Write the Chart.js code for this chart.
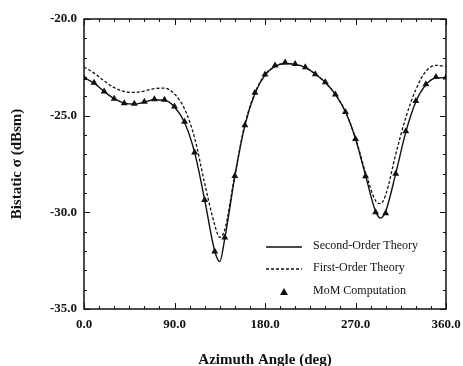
<!DOCTYPE html>
<html>
<head>
<meta charset="utf-8">
<script src="https://cdn.jsdelivr.net/npm/chart.js@4.4.1/dist/chart.umd.min.js"></script>
<style>
html,body{margin:0;padding:0;background:#fff;}
canvas{display:block;}
</style>
</head>
<body>
<canvas id="c" width="463" height="366"></canvas>
<script>
// ---- data ----
const theoryAngles = [0,10,20,30,40,50,60,70,80,90,100,110,120,130,135,140,150,160,170,180,190,200,210,220,230,240,250,260,270,280,290,295,300,310,320,330,340,350,360];
const secondOrder = [-23.03,-23.32,-23.75,-24.12,-24.35,-24.40,-24.30,-24.18,-24.20,-24.55,-25.35,-26.90,-29.35,-32.00,-32.55,-31.35,-28.15,-25.50,-23.85,-22.90,-22.45,-22.30,-22.35,-22.50,-22.85,-23.28,-23.90,-24.80,-26.20,-28.10,-29.95,-30.30,-29.95,-28.00,-25.85,-24.28,-23.40,-23.05,-23.03];
const firstOrder = [-22.48,-22.80,-23.20,-23.55,-23.75,-23.80,-23.73,-23.60,-23.58,-23.88,-24.65,-26.15,-28.50,-30.65,-31.30,-30.90,-28.05,-25.45,-23.82,-22.88,-22.45,-22.30,-22.35,-22.50,-22.85,-23.28,-23.90,-24.80,-26.15,-27.95,-29.40,-29.55,-29.10,-27.00,-25.10,-23.65,-22.70,-22.40,-22.45];
const momAngles = [0,10,20,30,40,50,60,70,80,90,100,110,120,130,140,150,160,170,180,190,200,210,220,230,240,250,260,270,280,290,300,310,320,330,340,350,360];
const momValues = [-23.05,-23.30,-23.75,-24.13,-24.36,-24.39,-24.28,-24.15,-24.18,-24.53,-25.31,-26.90,-29.36,-32.03,-31.30,-28.12,-25.50,-23.82,-22.87,-22.41,-22.25,-22.33,-22.50,-22.86,-23.27,-23.90,-24.81,-26.21,-28.14,-30.00,-30.05,-28.00,-25.81,-24.24,-23.37,-23.00,-23.03];
const xTickLabels = [0,90,180,270,360];
const yTickLabels = [-35,-30,-25,-20];
const xMinorStep = 15;
const yMinorStep = 1;
const legendLabels = ['Second-Order Theory','First-Order Theory','MoM Computation'];

const pts = (xs, ys) => xs.map((x, i) => ({x: x, y: ys[i]}));
const FONT = "'Liberation Serif', 'Times New Roman', serif";

const frameTicks = {
  id: 'frameTicks',
  afterDatasetsDraw(chart) {
    const {ctx, chartArea: a, scales: {x, y}} = chart;
    ctx.save();
    ctx.strokeStyle = '#111';
    ctx.lineWidth = 1.5;
    ctx.strokeRect(a.left, a.top, a.right - a.left, a.bottom - a.top);
    ctx.lineWidth = 1;
    ctx.beginPath();
    for (let v = x.min; v <= x.max + 1e-6; v += xMinorStep) {
      const px = Math.round(x.getPixelForValue(v)) + 0.5;
      const major = xTickLabels.includes(v);
      const L = major ? 6 : 3;
      ctx.moveTo(px, a.bottom); ctx.lineTo(px, a.bottom - L);
      ctx.moveTo(px, a.top); ctx.lineTo(px, a.top + L);
    }
    for (let v = y.min; v <= y.max + 1e-6; v += yMinorStep) {
      const py = Math.round(y.getPixelForValue(v)) + 0.5;
      const major = yTickLabels.includes(Math.round(v));
      const L = major ? 6 : 3;
      ctx.moveTo(a.left, py); ctx.lineTo(a.left + L, py);
      ctx.moveTo(a.right, py); ctx.lineTo(a.right - L, py);
    }
    ctx.stroke();
    ctx.restore();
  }
};

const insideLegend = {
  id: 'insideLegend',
  afterDraw(chart) {
    const {ctx} = chart;
    const ds = chart.data.datasets;
    const x0 = 266, x1 = 302, tx = 313;
    const rows = [247, 269, 292];
    ctx.save();
    ctx.font = '12px ' + FONT;
    ctx.fillStyle = '#111';
    ctx.textBaseline = 'middle';
    ctx.textAlign = 'left';
    ds.forEach((d, i) => {
      const yy = rows[i];
      if (d.showLine !== false) {
        ctx.strokeStyle = '#111';
        ctx.lineWidth = d.borderWidth;
        ctx.setLineDash(d.borderDash || []);
        ctx.beginPath(); ctx.moveTo(x0, yy); ctx.lineTo(x1, yy); ctx.stroke();
        ctx.setLineDash([]);
      } else {
        ctx.beginPath();
        ctx.moveTo(284, yy - 4); ctx.lineTo(288, yy + 3); ctx.lineTo(280, yy + 3); ctx.closePath();
        ctx.fill();
      }
      ctx.fillText(d.label, tx, yy - 1);
    });
    ctx.restore();
  }
};

new Chart(document.getElementById('c'), {
  type: 'scatter',
  data: {
    datasets: [
      {label: legendLabels[0], data: pts(theoryAngles, secondOrder), showLine: true, borderColor: '#111', borderWidth: 1.4, pointRadius: 0, cubicInterpolationMode: 'monotone', order: 2},
      {label: legendLabels[1], data: pts(theoryAngles, firstOrder), showLine: true, borderColor: '#111', borderWidth: 1.3, borderDash: [3, 2], pointRadius: 0, cubicInterpolationMode: 'monotone', order: 3},
      {label: legendLabels[2], data: pts(momAngles, momValues), showLine: false, pointStyle: 'triangle', pointRadius: 4, backgroundColor: '#111', borderColor: '#111', borderWidth: 0, order: 1}
    ]
  },
  options: {
    responsive: false,
    animation: false,
    events: [],
    layout: {padding: {top: 19, right: 17, left: 0, bottom: 0}},
    plugins: {legend: {display: false}, tooltip: {enabled: false}},
    scales: {
      x: {
        type: 'linear', min: 0, max: 360,
        afterBuildTicks: s => { s.ticks = xTickLabels.map(v => ({value: v})); },
        afterFit: s => { s.height = 57; s.paddingLeft = 0; s.paddingRight = 0; },
        grid: {display: false, drawTicks: false},
        border: {display: false},
        ticks: {padding: 8, color: '#111', maxRotation: 0, font: {family: FONT, size: 13, weight: 'bold'}, callback: v => v.toFixed(1)},
        title: {display: true, text: 'Azimuth Angle (deg)', color: '#111', padding: {top: 0, bottom: -3}, font: {family: FONT, size: 15, weight: 'bold'}}
      },
      y: {
        type: 'linear', min: -35, max: -20,
        afterBuildTicks: s => { s.ticks = yTickLabels.map(v => ({value: v})); },
        afterFit: s => { s.width = 84; s.paddingTop = 0; s.paddingBottom = 0; },
        grid: {display: false, drawTicks: false},
        border: {display: false},
        ticks: {padding: 7, color: '#111', font: {family: FONT, size: 13, weight: 'bold'}, callback: v => v.toFixed(1)},
        title: {display: true, text: 'Bistatic σ (dBsm)', color: '#111', padding: {top: 8, bottom: 0}, font: {family: FONT, size: 15, weight: 'bold'}}
      }
    }
  },
  plugins: [frameTicks, insideLegend]
});
</script>
</body>
</html>
